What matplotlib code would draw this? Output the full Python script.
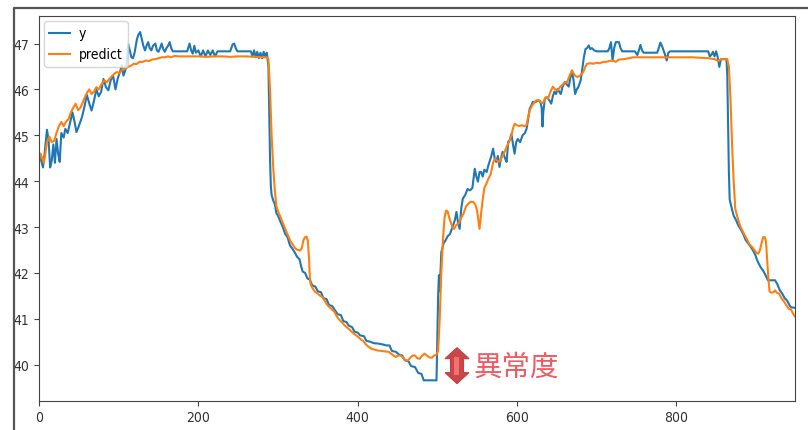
import matplotlib
matplotlib.use("Agg")
import matplotlib.pyplot as plt
import matplotlib.transforms as mtransforms
from matplotlib.patches import Polygon, Rectangle
from matplotlib.lines import Line2D
from matplotlib.font_manager import FontProperties

# ---------------- data ----------------
y_x = [0, 2, 5, 7, 10, 12, 14, 16, 18, 20, 22, 24, 26, 28, 31, 33, 36, 39, 42, 44,
       47, 50, 54, 57, 60, 63, 66, 69, 72, 75, 78, 81, 84, 87, 90, 93, 96, 99, 101, 104,
       106, 108, 110, 112, 114, 116, 118, 120, 123, 125, 127, 129, 131, 133, 135, 137, 139, 141, 143, 146,
       148, 150, 152, 154, 156, 158, 160, 162, 164, 166, 168, 186, 189, 191, 193, 195, 197, 200, 203, 206,
       209, 212, 215, 218, 221, 224, 240, 243, 245, 247, 249, 266, 268, 270, 272, 274, 276, 278, 280, 282,
       284, 286, 288, 289, 290, 291, 292, 294, 296, 298, 300, 303, 306, 309, 312, 315, 318, 321, 324, 327,
       329, 331, 334, 337, 340, 343, 347, 350, 354, 357, 361, 364, 368, 371, 375, 379, 382, 386, 389, 393,
       396, 400, 403, 408, 411, 416, 420, 426, 432, 436, 440, 443, 448, 452, 456, 459, 464, 467, 472, 476,
       480, 483, 495, 499, 501, 502, 503, 505, 508, 510, 513, 516, 519, 522, 524, 526, 528, 530, 532, 535,
       538, 541, 544, 547, 549, 551, 553, 555, 557, 559, 562, 564, 566, 568, 570, 572, 574, 576, 578, 580,
       582, 585, 587, 589, 591, 593, 595, 597, 599, 601, 604, 607, 610, 612, 614, 616, 618, 620, 623, 626,
       629, 631, 632, 633, 635, 638, 641, 643, 645, 647, 649, 651, 653, 655, 657, 660, 663, 665, 667, 669,
       671, 673, 675, 677, 680, 682, 684, 686, 688, 690, 692, 694, 697, 700, 714, 716, 718, 720, 722, 724,
       728, 730, 732, 748, 751, 753, 755, 757, 759, 773, 776, 778, 780, 782, 784, 786, 788, 790, 792, 840,
       842, 844, 846, 848, 850, 852, 854, 856, 863, 864, 865, 866, 867, 869, 872, 875, 878, 881, 884, 887,
       890, 893, 896, 899, 901, 903, 906, 909, 912, 915, 924, 927, 930, 933, 936, 939, 942, 944, 949]
y_val = [44.62, 44.5, 44.3, 44.6, 45.12, 44.9, 44.3, 44.45, 44.8, 44.4, 44.92, 44.6, 44.42, 45.05, 44.95, 45.14, 45.05, 45.28, 45.5, 45.35,
         45.07, 45.2, 45.4, 45.62, 45.88, 45.7, 45.54, 45.75, 46.0, 45.85, 45.95, 46.23, 46.05, 45.98, 46.2, 46.3, 46.0, 46.25, 46.35, 46.52,
         46.3, 46.4, 46.55, 46.99, 46.85, 46.7, 46.68, 46.8, 47.1, 47.2, 47.25, 47.1, 46.95, 46.85, 46.95, 47.03, 46.9, 46.85, 46.95, 47.0,
         46.85, 46.82, 46.9, 47.0, 46.88, 46.82, 46.9, 46.95, 47.03, 46.9, 46.83, 46.83, 47.0, 46.85, 46.78, 46.95, 46.8, 46.85, 46.72, 46.85,
         46.72, 46.85, 46.75, 46.85, 46.72, 46.83, 46.83, 46.98, 47.0, 46.9, 46.83, 46.83, 46.72, 46.85, 46.7, 46.82, 46.68, 46.8, 46.68, 46.82,
         46.72, 46.8, 46.5, 45.5, 44.5, 43.9, 43.7, 43.58, 43.5, 43.3, 43.25, 43.12, 43.0, 42.85, 42.78, 42.6, 42.53, 42.45, 42.35, 42.3,
         42.15, 42.03, 42.0, 41.88, 41.85, 41.73, 41.7, 41.6, 41.58, 41.45, 41.43, 41.3, 41.28, 41.2, 41.1, 41.08, 40.95, 40.93, 40.85, 40.82,
         40.72, 40.7, 40.64, 40.62, 40.52, 40.5, 40.47, 40.46, 40.44, 40.42, 40.42, 40.3, 40.28, 40.22, 40.2, 40.1, 40.07, 39.97, 39.95, 39.82,
         39.8, 39.66, 39.66, 39.66, 41.5, 41.95, 41.6, 42.45, 42.65, 42.7, 42.8, 42.85, 43.0, 43.15, 43.33, 43.1, 42.96, 43.4, 43.62, 43.7,
         43.83, 43.8, 43.85, 44.27, 44.1, 43.99, 44.2, 44.2, 44.1, 44.25, 44.2, 44.34, 44.45, 44.56, 44.71, 44.5, 44.42, 44.55, 44.31, 44.5,
         44.64, 44.5, 44.42, 44.86, 44.9, 45.03, 44.8, 44.6, 44.85, 44.92, 44.85, 45.0, 45.05, 45.14, 45.35, 45.58, 45.65, 45.73, 45.72, 45.76,
         45.75, 45.6, 45.19, 45.5, 45.8, 45.83, 45.75, 45.69, 45.85, 45.95, 45.9, 46.01, 45.95, 45.9, 46.05, 46.16, 46.1, 46.06, 46.25, 46.41,
         46.2, 45.9, 46.0, 46.05, 46.2, 46.45, 46.7, 46.88, 46.9, 46.96, 46.88, 46.9, 46.85, 46.83, 46.83, 46.9, 47.03, 46.63, 46.9, 47.03,
         47.03, 46.9, 46.83, 46.83, 46.75, 46.85, 46.97, 46.85, 46.8, 46.8, 46.8, 46.9, 47.02, 46.95, 46.85, 46.75, 46.63, 46.8, 46.83, 46.83,
         46.72, 46.75, 46.82, 46.72, 46.83, 46.7, 46.49, 46.66, 46.66, 46.3, 45.2, 44.2, 43.6, 43.45, 43.25, 43.15, 43.03, 42.95, 42.85, 42.72,
         42.65, 42.58, 42.5, 42.4, 42.3, 42.22, 42.12, 42.05, 41.95, 41.84, 41.84, 41.75, 41.62, 41.55, 41.45, 41.4, 41.3, 41.25, 41.24]

pred_x = [0, 2, 4, 6, 8, 10, 13, 16, 19, 22, 25, 28, 31, 34, 37, 40, 43, 46, 49, 52,
          55, 58, 61, 63, 66, 69, 72, 75, 78, 82, 85, 88, 92, 95, 98, 101, 104, 107, 110, 113,
          116, 119, 122, 126, 130, 134, 138, 142, 146, 150, 154, 158, 162, 166, 170, 175, 180, 190, 200, 210,
          220, 230, 240, 250, 260, 270, 280, 286, 288, 290, 292, 294, 296, 298, 301, 304, 307, 310, 313, 316,
          319, 322, 325, 328, 330, 332, 334, 336, 337.5, 339, 340, 341, 343, 346, 350, 353, 356, 359, 362, 365,
          368, 371, 374, 377, 380, 383, 386, 389, 392, 395, 398, 401, 404, 407, 410, 413, 417, 421, 425, 430,
          435, 439, 442, 445, 448, 451, 454, 457, 460, 463, 466, 469, 472, 475, 478, 481, 484, 487, 490, 493,
          496, 499, 501, 503, 505, 507, 509, 511, 513, 515, 517, 519, 521, 524, 527, 530, 533, 536, 539, 542,
          545, 548, 550, 552, 553, 555, 557, 559, 561, 564, 567, 570, 572, 575, 578, 581, 584, 587, 590, 593,
          595, 597, 600, 603, 606, 609, 612, 614, 616, 619, 622, 624, 627, 630, 632, 634, 636, 639, 642, 645,
          648, 651, 654, 657, 660, 663, 666, 669, 671, 673, 676, 679, 682, 684, 686, 688, 692, 696, 700, 704,
          708, 712, 716, 720, 724, 728, 735, 740, 746, 760, 780, 800, 820, 840, 848, 853, 856, 860, 864, 866,
          868, 870, 872, 874, 877, 880, 883, 886, 889, 892, 895, 898, 901, 903, 905, 907, 909, 911, 912.5, 914,
          915.5, 917, 919, 922, 924, 926, 929, 932, 935, 938, 941, 944, 947, 949]
pred_val = [44.45, 44.6, 44.5, 44.4, 44.6, 44.85, 44.97, 44.85, 44.88, 45.05, 45.2, 45.29, 45.2, 45.3, 45.35, 45.5, 45.6, 45.69, 45.55, 45.6,
            45.72, 45.85, 45.95, 46.0, 45.9, 45.95, 46.05, 46.0, 46.1, 46.2, 46.15, 46.22, 46.3, 46.35, 46.38, 46.35, 46.42, 46.45, 46.47, 46.5,
            46.52, 46.56, 46.55, 46.6, 46.6, 46.63, 46.62, 46.65, 46.66, 46.68, 46.7, 46.7, 46.72, 46.7, 46.73, 46.72, 46.72, 46.72, 46.72, 46.71,
            46.72, 46.72, 46.71, 46.72, 46.72, 46.71, 46.7, 46.7, 46.65, 46.0, 45.0, 44.3, 43.8, 43.45, 43.3, 43.18, 43.05, 42.92, 42.8, 42.68,
            42.6, 42.53, 42.5, 42.49, 42.55, 42.72, 42.78, 42.79, 42.7, 42.3, 41.9, 41.75, 41.68, 41.6, 41.55, 41.5, 41.47, 41.38, 41.3, 41.25,
            41.2, 41.15, 41.05, 40.98, 40.93, 40.87, 40.82, 40.78, 40.73, 40.68, 40.64, 40.6, 40.55, 40.52, 40.45, 40.4, 40.35, 40.33, 40.31, 40.3,
            40.29, 40.28, 40.24, 40.2, 40.17, 40.2, 40.2, 40.15, 40.1, 40.09, 40.15, 40.2, 40.2, 40.14, 40.13, 40.2, 40.24, 40.2, 40.16, 40.15,
            40.2, 40.22, 40.3, 41.0, 42.0, 42.7, 43.2, 43.36, 43.34, 43.2, 43.1, 43.0, 42.96, 43.05, 43.08, 43.2, 43.3, 43.45, 43.51, 43.55,
            43.55, 43.48, 43.35, 43.1, 42.96, 43.3, 43.6, 43.85, 43.92, 44.05, 44.15, 44.4, 44.49, 44.45, 44.42, 44.52, 44.62, 44.75, 44.85, 45.0,
            45.15, 45.25, 45.22, 45.2, 45.22, 45.2, 45.22, 45.4, 45.54, 45.65, 45.72, 45.76, 45.77, 45.72, 45.7, 45.75, 45.83, 45.8, 45.95, 46.06,
            46.0, 45.98, 46.05, 46.1, 46.15, 46.16, 46.3, 46.41, 46.35, 46.3, 46.27, 46.3, 46.35, 46.41, 46.5, 46.56, 46.57, 46.56, 46.58, 46.57,
            46.6, 46.6, 46.62, 46.63, 46.6, 46.65, 46.66, 46.68, 46.7, 46.7, 46.7, 46.7, 46.7, 46.68, 46.66, 46.62, 46.66, 46.66, 46.66, 46.5,
            45.8, 44.8, 44.0, 43.4, 43.2, 43.03, 42.92, 42.82, 42.72, 42.62, 42.57, 42.5, 42.43, 42.42, 42.5, 42.65, 42.78, 42.78, 42.7, 42.3,
            41.9, 41.6, 41.57, 41.58, 41.62, 41.57, 41.55, 41.45, 41.38, 41.3, 41.22, 41.2, 41.1, 41.05]

x_ticks = [0, 200, 400, 600, 800]
y_ticks = [40, 41, 42, 43, 44, 45, 46, 47]
series_labels = ["y", "predict"]
note_text = "異常度"
note_pos = (599, 39.96)
arrow_pos = (524.7, 39.98)

# ---------------- figure ----------------
W, H = 808, 431
fig = plt.figure(figsize=(W / 100, H / 100), dpi=100)
ax = fig.add_axes([39 / W, 1 - 401.5 / H, (795 - 39) / W, (401.5 - 17) / H])

tick_fp = FontProperties(family="DejaVu Sans", stretch="condensed", size=10)

ax.plot(y_x, y_val, color="#1f77b4", lw=1.5, label=series_labels[0])
ax.plot(pred_x, pred_val, color="#ff7f0e", lw=1.5, label=series_labels[1])

ax.set_xlim(0, 949)
ax.set_ylim(39.22, 47.6)
ax.set_xticks(x_ticks)
ax.set_yticks(y_ticks)
for lab in ax.get_xticklabels() + ax.get_yticklabels():
    lab.set_fontproperties(tick_fp)
    lab.set_color("#333333")
for sp in ax.spines.values():
    sp.set_color("#444444")
ax.tick_params(colors="#444444", labelcolor="#333333")

leg = ax.legend(loc="upper left", prop=tick_fp, handlelength=1.5,
                handletextpad=0.6, borderaxespad=0.35, borderpad=0.4)

# annotation: fat double-headed arrow + label
trans = fig.dpi_scale_trans + mtransforms.ScaledTranslation(arrow_pos[0], arrow_pos[1], ax.transData)
s = 1 / 100.0
verts = [(0, 18), (12, 7), (6.5, 7), (6.5, -7), (12, -7), (0, -18), (-12, -7), (-6.5, -7), (-6.5, 7), (-12, 7)]
verts = [(a * s, b * s) for a, b in verts]
ax.add_patch(Polygon(verts, closed=True, transform=trans, facecolor="#c9474b",
                     edgecolor="#c23f44", lw=0.8, zorder=5, clip_on=False))
ax.add_patch(Rectangle((-2.5 * s, -9 * s), 5 * s, 18 * s, transform=trans,
                       facecolor="#f77070", edgecolor="none", zorder=6, clip_on=False))
ax.text(note_pos[0], note_pos[1], note_text, ha="center", va="center",
        fontsize=20.5, color="#ef5a63", family=["Noto Sans CJK JP", "DejaVu Sans"], zorder=6)

# outer screenshot frame
fig.add_artist(Line2D([14 / W, 14 / W, 1.0], [0.0, 1 - 9 / H, 1 - 9 / H],
                      transform=fig.transFigure, color="#555555", lw=1.6))

fig.savefig("out.png", dpi=100)
